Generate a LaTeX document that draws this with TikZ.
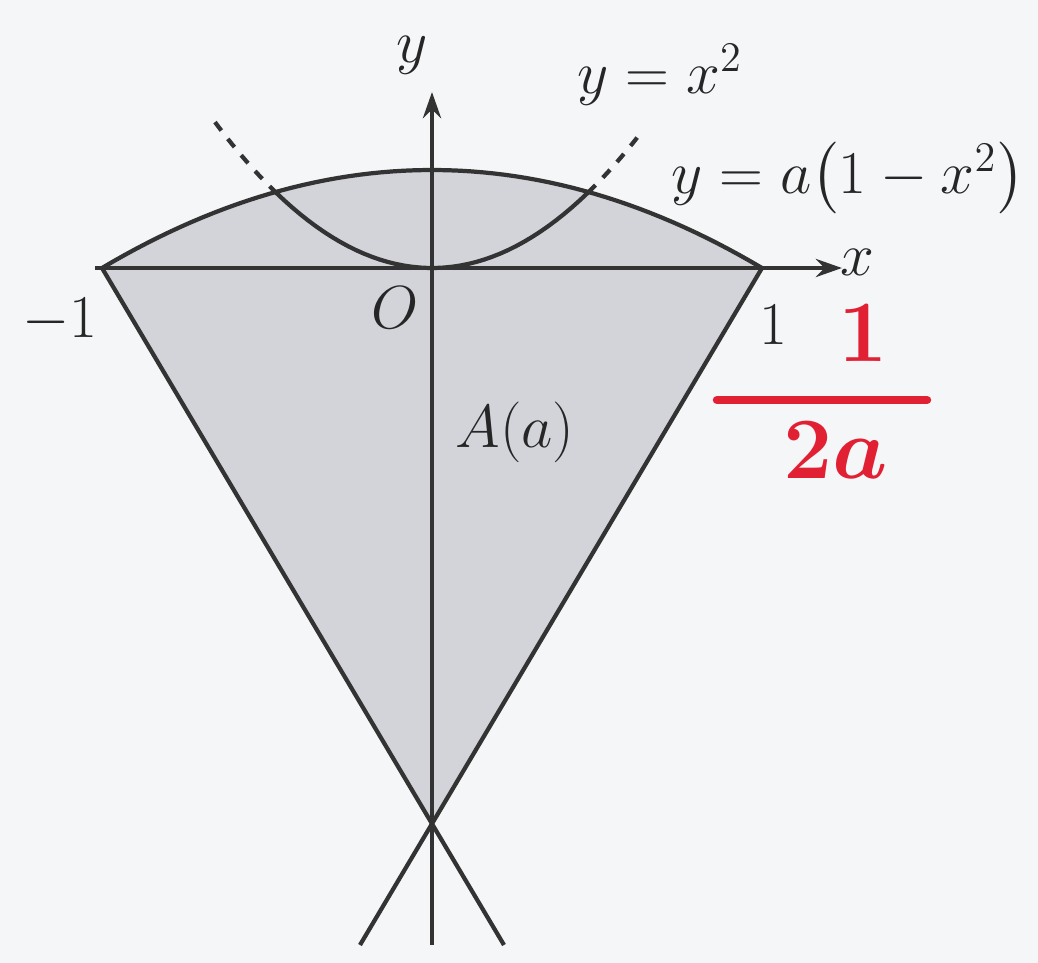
\documentclass[tikz,border=0pt]{standalone}
\usepackage{amsmath,amssymb}
\usepackage{bm}
\usetikzlibrary{arrows.meta,calc}
\definecolor{inkred}{RGB}{226,32,52}
\definecolor{paper}{RGB}{244,246,248}
\definecolor{stipple}{RGB}{210,212,218}

\begin{document}
\begin{tikzpicture}[x=0.01cm, y=-0.01cm,
  curve/.style={line width=1.2pt, black!80},
  axis/.style={line width=1.3pt, black!80, -{Stealth[length=2.6mm, width=1.8mm]}},
  lbl/.style={font=\fontsize{17}{20}\selectfont, text=black!85, inner sep=0pt},
  redlbl/.style={font=\fontsize{32}{36}\selectfont, text=inkred, inner sep=0pt}]
\fill[paper] (0,0) rectangle (1038,963);
\useasboundingbox (0,0) rectangle (1038,963);
% points of the region
\coordinate (lft) at (102,268);
\coordinate (rgt) at (762,268);
\coordinate (apex) at (432,824);
\coordinate (lowL) at (360,945);
\coordinate (lowR) at (504,945);
\coordinate (ybot) at (432,945);
\coordinate (ytop) at (432,92);
\coordinate (xlft) at (95,268);
\coordinate (xrgt) at (842,268);
% shaded region
\fill[stipple] plot[domain=-330:330, samples=60] ({432+\x}, {268-98*(1-(\x/330)^2)}) -- (apex) -- cycle;
% axes
\draw[axis] (ybot) -- (ytop);
\draw[axis] (xlft) -- (xrgt);
% y = a(1-x^2)
\draw[curve] plot[domain=-330:330, samples=60] ({432+\x}, {268-98*(1-(\x/330)^2)});
% normals
\draw[curve] (lft) -- (lowR);
\draw[curve] (rgt) -- (lowL);
% y = x^2
\draw[curve] plot[domain=-156:156, samples=40] ({432+\x}, {268-75.4*(\x/156)^2});
\draw[curve, dashed] plot[domain=-217:-156, samples=15] ({432+\x}, {268-75.4*(\x/156)^2});
\draw[curve, dashed] plot[domain=156:210, samples=15] ({432+\x}, {268-75.4*(\x/156)^2});
% labels
\node[lbl] (ylab) at (412,55) {$y$};
\node[lbl] (xlab) at (857,262) {$x$};
\node[lbl] (sq) at (660,75) {$y=x^2$};
\node[lbl] (par) at (848,178) {$y=a\bigl(1-x^2\bigr)$};
\node[lbl] (mone) at (60,320) {$-1$};
\node[lbl] (one) at (773,325) {$1$};
\node[lbl] (orig) at (395,308) {$O$};
\node[lbl, font=\fontsize{19}{22}\selectfont] (area) at (515,432) {$A(a)$};
% red note
\node[redlbl] (num) at (863,333) {$\bm{1}$};
\node[redlbl] (den) at (836,450) {$\bm{2a}$};
\draw[inkred, line width=2.4pt, line cap=round] (717,400) -- (927,400);
\end{tikzpicture}
\end{document}
